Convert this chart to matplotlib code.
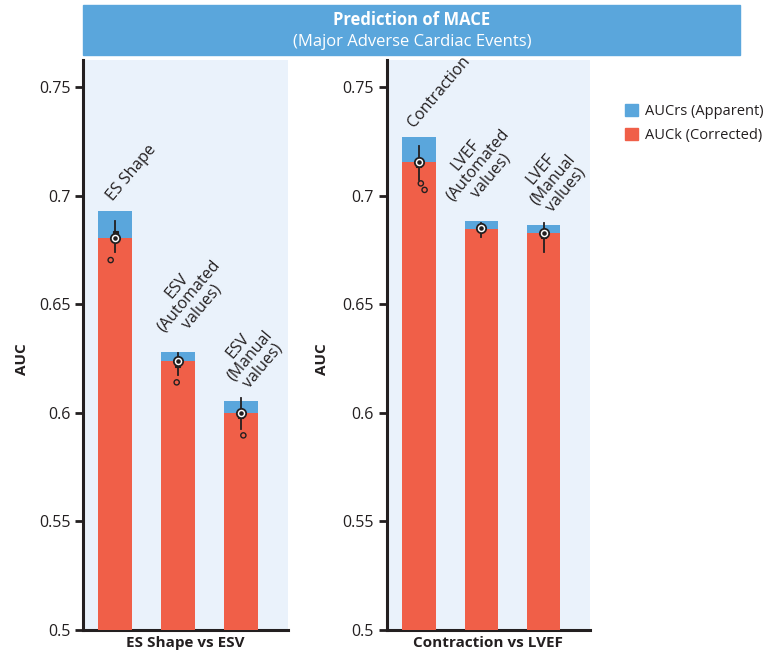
import matplotlib
matplotlib.use('Agg')
import matplotlib.pyplot as plt
from matplotlib.patches import Rectangle, Patch

plt.rcParams['font.family'] = ['Open Sans', 'DejaVu Sans']

# Left panel: ES Shape vs ESV
left_labels = ['ES Shape', 'ESV\n(Automated\nvalues)', 'ESV\n(Manual\nvalues)']
left_apparent = [0.6929, 0.6280, 0.6054]
left_corrected = [0.6806, 0.6238, 0.5999]
left_med = [0.6806, 0.6238, 0.5999]
left_q1 = [0.6800, 0.6212, 0.5975]
left_q3 = [0.6837, 0.6245, 0.6005]
left_wlo = [0.6742, 0.6173, 0.5927]
left_whi = [0.6883, 0.6277, 0.6067]
left_fliers = [[0.6703], [0.6140], [0.5896]]

# Right panel: Contraction vs LVEF
right_labels = ['Contraction', 'LVEF\n(Automated\nvalues)', 'LVEF\n(Manual\nvalues)']
right_apparent = [0.7270, 0.6883, 0.6865]
right_corrected = [0.7156, 0.6846, 0.6828]
right_med = [0.7156, 0.6849, 0.6829]
right_q1 = [0.7130, 0.6843, 0.6803]
right_q3 = [0.7162, 0.6853, 0.6833]
right_wlo = [0.7072, 0.6810, 0.6742]
right_whi = [0.7227, 0.6875, 0.6872]
right_fliers = [[0.7056, 0.7026], [], []]

yticks = [0.5, 0.55, 0.6, 0.65, 0.7, 0.75]
ytick_labels = ['0.5', '0.55', '0.6', '0.65', '0.7', '0.75']

BLUE = '#5aa6dc'
RED = '#f05f48'
BG = '#eaf2fb'
DARK = '#231f20'

fig = plt.figure(figsize=(7.72, 6.56), dpi=100)

# title banner
fig.patches.append(Rectangle((83/772, 1 - 55/656), 657/772, 50/656,
                             transform=fig.transFigure, color=BLUE, zorder=0))
fig.text(412/772, 1 - 20/656, 'Prediction of MACE', color='white',
         fontsize=12, fontweight='bold', ha='center', va='center')
fig.text(412/772, 1 - 42/656, '(Major Adverse Cardiac Events)', color='white',
         fontsize=12, ha='center', va='center')


def panel(ax, labels, apparent, corrected, med, q1, q3, wlo, whi, fliers,
          flier_dx, xlab, xlim, label_dx, ylab_x):
    x = list(range(len(labels)))
    ax.set_facecolor(BG)
    ax.bar(x, apparent, width=0.53, color=BLUE, zorder=2)
    ax.bar(x, corrected, width=0.53, color=RED, zorder=3)

    stats = []
    for i in x:
        stats.append(dict(med=med[i], q1=q1[i], q3=q3[i], whislo=wlo[i],
                          whishi=whi[i], fliers=[]))
    ax.bxp(stats, positions=x, widths=0.08, showfliers=False, showcaps=False,
           patch_artist=True, manage_ticks=False,
           boxprops=dict(facecolor=DARK, edgecolor=DARK, linewidth=0.8),
           whiskerprops=dict(color=DARK, linewidth=1.3),
           medianprops=dict(linewidth=0), zorder=4)
    ax.scatter(x, med, s=45, facecolor='white', edgecolor=DARK,
               linewidth=1.3, zorder=5)
    ax.scatter(x, med, s=5, color=DARK, zorder=6)
    for i in x:
        for j, f in enumerate(fliers[i]):
            ax.scatter(x[i] + flier_dx[i][j], f, s=14, facecolor='none',
                       edgecolor=DARK, linewidth=1.0, zorder=5)

    for i in x:
        ax.text(x[i] + label_dx[i], apparent[i] + 0.003, labels[i],
                rotation=50, ha='center', va='bottom', fontsize=11.5,
                color=DARK, multialignment='center', linespacing=1.0,
                zorder=6)

    ax.set_ylim(0.5, 0.7624)
    ax.set_xlim(*xlim)
    ax.set_yticks(yticks)
    ax.set_yticklabels(ytick_labels, fontsize=11.5, color=DARK)
    ax.set_xticks([])
    ax.tick_params(axis='y', length=6, width=2, color=DARK, direction='out',
                   pad=3)
    for s in ['top', 'right']:
        ax.spines[s].set_visible(False)
    for s in ['left', 'bottom']:
        ax.spines[s].set_linewidth(2.2)
        ax.spines[s].set_color(DARK)
    ax.set_ylabel('AUC', fontsize=11, fontweight='bold', color=DARK)
    ax.yaxis.set_label_coords(ylab_x, 0.475)
    ax.set_xlabel(xlab, fontsize=11, fontweight='bold', color=DARK,
                  labelpad=4)


ax1 = fig.add_axes([83/772, 26/656, 205/772, 570/656])
ax2 = fig.add_axes([386.5/772, 26/656, 203.5/772, 570/656])

panel(ax1, left_labels, left_apparent, left_corrected, left_med, left_q1,
      left_q3, left_wlo, left_whi, left_fliers, [[-0.07], [-0.02], [0.04]],
      'ES Shape vs ESV', (-0.51, 2.75), [0.27, 0.18, 0.15], -0.265)
panel(ax2, right_labels, right_apparent, right_corrected, right_med, right_q1,
      right_q3, right_wlo, right_whi, right_fliers, [[0.03, 0.09], [], []],
      'Contraction vs LVEF', (-0.52, 2.74), [0.33, -0.05, 0.15], -0.285)

handles = [Patch(color=BLUE, label='AUCrs (Apparent)'),
           Patch(color=RED, label='AUCk (Corrected)')]
fig.legend(handles=handles, loc='upper left', bbox_to_anchor=(612/772, 1 - 91/656),
           frameon=False, fontsize=10.5, handlelength=0.9, handleheight=0.9,
           handletextpad=0.45, labelspacing=0.6, labelcolor=DARK)

plt.savefig('out.png', dpi=100)
